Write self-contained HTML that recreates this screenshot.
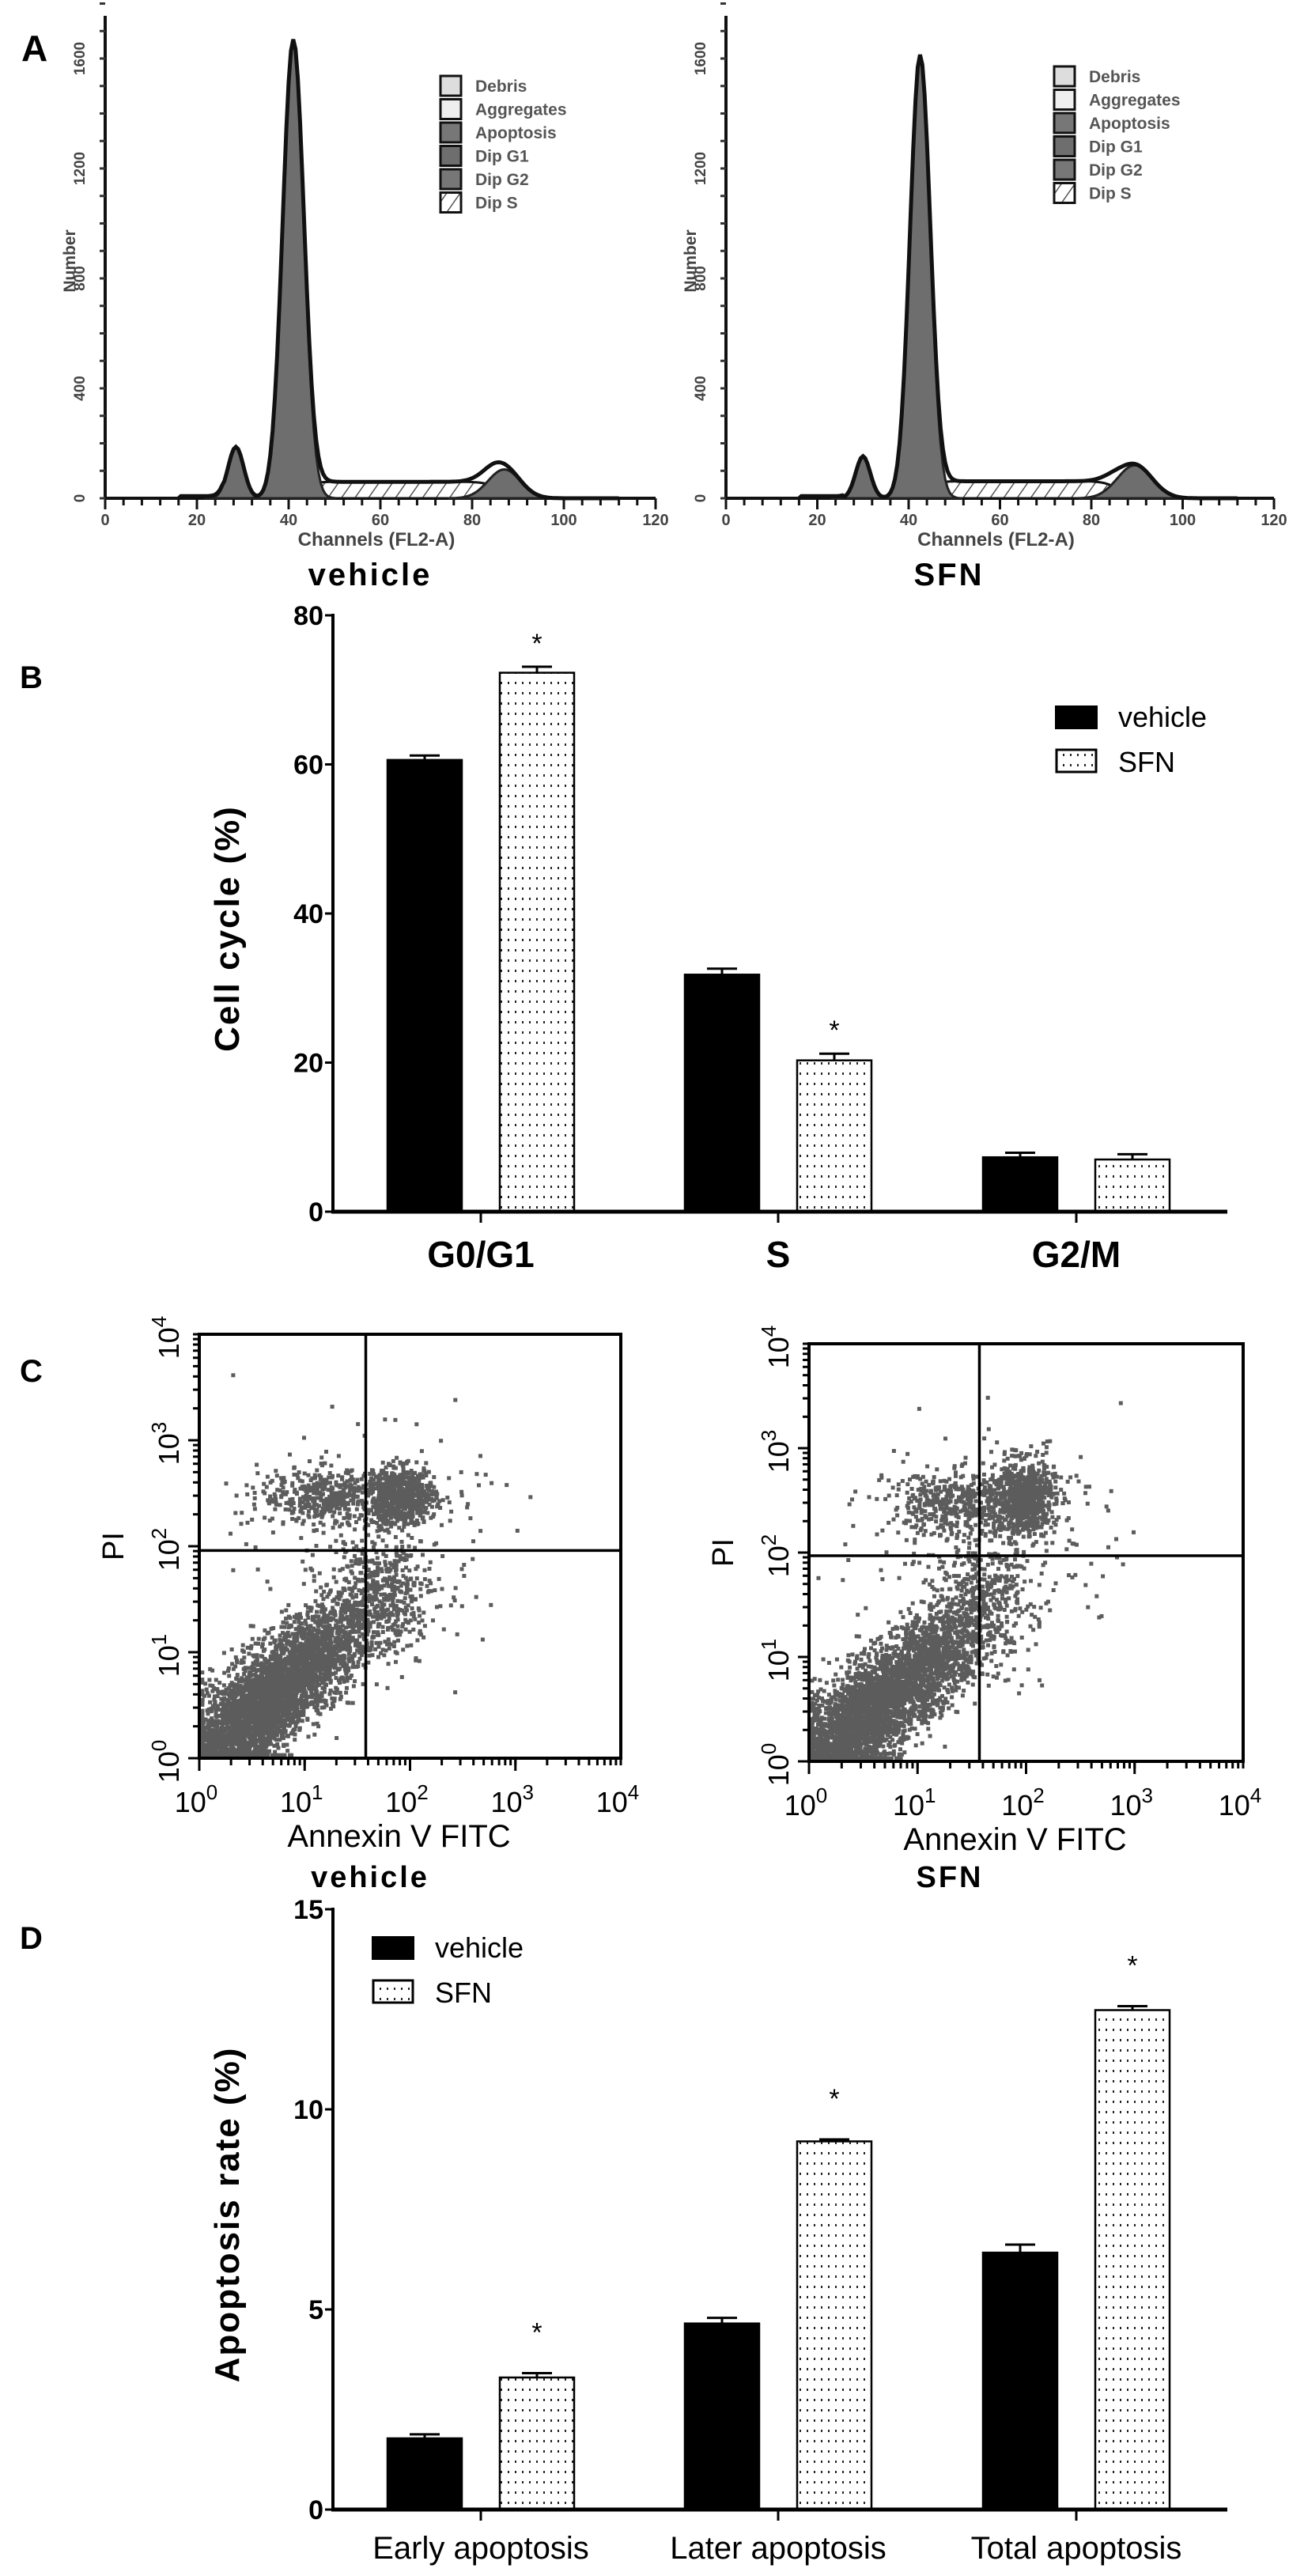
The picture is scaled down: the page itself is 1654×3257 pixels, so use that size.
<!DOCTYPE html>
<html><head><meta charset="utf-8"><style>
html,body{margin:0;padding:0;background:#fff;}
svg{display:block;}
.nb{font-family:"Liberation Sans Narrow","Liberation Sans",sans-serif;font-weight:bold;}
.n{font-family:"Liberation Sans Narrow","Liberation Sans",sans-serif;}
.s{font-family:"Liberation Sans",sans-serif;}
</style></head><body>
<svg id="fig" width="1654" height="3257" viewBox="0 0 1654 3257" xmlns="http://www.w3.org/2000/svg">
<defs>
<pattern id="dots" width="9" height="13" patternUnits="userSpaceOnUse"><rect width="9" height="13" fill="#fff"/><rect x="3" y="4" width="2" height="3" fill="#222"/></pattern>
<pattern id="hatch" width="14" height="14" patternUnits="userSpaceOnUse" patternTransform="rotate(35)"><rect width="14" height="14" fill="#fff"/><line x1="0" y1="0" x2="0" y2="14" stroke="#555" stroke-width="3"/></pattern>
</defs>
<text x="27" y="77" class="nb" font-size="46">A</text>
<g id="histL"></g>
<g id="histR"></g>
<text x="25" y="870" class="s" font-weight="bold" font-size="40">B</text>
<g id="chartB"></g>
<text x="25" y="1747" class="s" font-weight="bold" font-size="40">C</text>
<g id="scL"></g>
<g id="scR"></g>
<text x="25" y="2464" class="s" font-weight="bold" font-size="40">D</text>
<g id="chartD"></g>
</svg>
<script>
const NS="http://www.w3.org/2000/svg";
// ---- Panel A data ----
const histTicksX=[0,20,40,60,80,100,120];
const histTicksY=[0,400,800,1200,1600];
const legendA=["Debris","Aggregates","Apoptosis","Dip G1","Dip G2","Dip S"];
const vehApo=[28.5,187,1.7];
const vehG1=[41,1660,2.3];
const vehG2=[87,105,3.5];
const vehS=[43,86,60];
const sfnApo=[30,153,1.6];
const sfnG1=[42.5,1600,2.2];
const sfnG2=[89.5,120,3.8];
const sfnS=[44,86,62];
// ---- Panel B data ----
const catB=["G0/G1","S","G2/M"];
const vehB=[60.6,31.8,7.3];
const vehBerr=[0.6,0.8,0.6];
const sfnB=[72.3,20.3,7.0];
const sfnBerr=[0.8,0.9,0.7];
const ticksB=[0,20,40,60,80];
// ---- Panel C data (clusters: cx,cy,sx,sy,n,diag) ----
const vehClusters=[[0.6,0.5,0.5,0.2,4200,1],[1.2,2.45,0.32,0.14,420,0],[1.9,2.45,0.16,0.13,700,0],[1.75,1.5,0.25,0.3,320,0],[1.6,2.0,0.55,0.5,160,0]];
const sfnClusters=[[0.55,0.45,0.5,0.2,4200,1],[1.3,2.45,0.3,0.15,380,0],[1.95,2.5,0.15,0.18,750,0],[1.55,1.5,0.25,0.35,320,0],[1.7,2.1,0.6,0.55,170,0]];
// ---- Panel D data ----
const catD=["Early apoptosis","Later apoptosis","Total apoptosis"];
const vehD=[1.78,4.65,6.42];
const vehDerr=[0.1,0.14,0.2];
const sfnD=[3.3,9.2,12.48];
const sfnDerr=[0.11,0.05,0.1];
const ticksD=[0,5,10,15];

function el(tag,attrs,parent,text){const e=document.createElementNS(NS,tag);for(const k in attrs)e.setAttribute(k,attrs[k]);if(text!==undefined)e.textContent=text;parent.appendChild(e);return e;}
function gauss(c,p){return p[1]*Math.exp(-0.5*Math.pow((c-p[0])/p[2],2));}
function plate(c,s){const a=1/(1+Math.exp(-(c-s[0])/1.2)),b=1/(1+Math.exp((c-s[1])/1.5));return s[2]*a*b;}

function hist(g,x0,x1,base,apo,g1,g2,S,txt,lx){
  const xs=c=>x0+c*(x1-x0)/120, ys=n=>base-n*0.3475;
  const ax=el('line',{x1:x0,y1:base,x2:x1,y2:base,stroke:'#111','stroke-width':4},g);
  
  const ay=el('line',{x1:x0,y1:20,x2:x0,y2:base,stroke:'#111','stroke-width':4},g);
  
  for(let c=0;c<=120;c+=4){el('line',{x1:xs(c),y1:base,x2:xs(c),y2:base+(c%20==0?14:9),stroke:'#111','stroke-width':3},g);}
  for(let n=0;n<=1800;n+=100){el('line',{x1:x0-7,y1:ys(n),x2:x0,y2:ys(n),stroke:'#333','stroke-width':3},g);}
  histTicksX.forEach(v=>{const t=el('text',{x:xs(v),y:664,'text-anchor':'middle','font-size':20,fill:'#444',class:'nb'},g,v);});
  histTicksY.forEach(v=>{const t=el('text',{x:0,y:0,'text-anchor':'middle','font-size':19,fill:'#444',class:'nb',transform:`translate(${x0-26},${ys(v)}) rotate(-90)`},g,v);});
  const yt=el('text',{x:0,y:0,'text-anchor':'middle','font-size':21,fill:'#444',class:'nb',transform:`translate(${x0-38},330) rotate(-90)`},g,'Number');
  const xt=el('text',{x:(x0+x1)/2-5,y:690,'text-anchor':'middle','font-size':24,fill:'#444',class:'nb'},g,'Channels  (FL2-A)');
  const cap=el('text',{x:lx,y:740,'text-anchor':'middle','font-size':40,class:'nb','letter-spacing':'3'},g,txt);
  let sP=`M${xs(S[0]-3)},${base}`,g1P=`M${xs(g1[0]-9)},${base}`,apP=`M${xs(apo[0]-7)},${base}`,g2P=`M${xs(g2[0]-12)},${base}`,tot='';
  for(let c=16;c<=112;c+=0.5){
    const sv=plate(c,S),a=gauss(c,apo),b=gauss(c,g1),d=gauss(c,g2),deb=(c>16&&c<26)?8:0;
    const t=sv+a+b+d+deb;
    tot+=(tot?'L':'M')+xs(c).toFixed(1)+','+ys(t).toFixed(1);
    if(c>=S[0]-3&&c<=S[1]+5)sP+=`L${xs(c).toFixed(1)},${ys(sv).toFixed(1)}`;
    if(Math.abs(c-g1[0])<=9)g1P+=`L${xs(c).toFixed(1)},${ys(b).toFixed(1)}`;
    if(Math.abs(c-apo[0])<=7)apP+=`L${xs(c).toFixed(1)},${ys(a).toFixed(1)}`;
    if(Math.abs(c-g2[0])<=12)g2P+=`L${xs(c).toFixed(1)},${ys(d).toFixed(1)}`;
  }
  const ps=el('path',{d:sP+`L${xs(S[1]+5)},${base}Z`,fill:'url(#hatch)',stroke:'#111','stroke-width':3},g);
  const p2=el('path',{d:g2P+`L${xs(g2[0]+12)},${base}Z`,fill:'#6e6e6e',stroke:'#222','stroke-width':3},g);
  const pa=el('path',{d:apP+`L${xs(apo[0]+7)},${base}Z`,fill:'#6e6e6e',stroke:'#222','stroke-width':3},g);
  const p1=el('path',{d:g1P+`L${xs(g1[0]+9)},${base}Z`,fill:'#6e6e6e',stroke:'#222','stroke-width':3},g);
  const pt=el('path',{d:tot,fill:'none',stroke:'#111','stroke-width':5},g);
}
function legendHist(g,x,y0){
  const fills=['#ddd','#eee','#777','#6e6e6e','#777','url(#hatch)'];
  legendA.forEach((t,i)=>{const y=y0+i*29.5;
    const r=el('rect',{x:x,y:y-12,width:26,height:25,fill:fills[i],stroke:'#111','stroke-width':3},g);
    const tx=el('text',{x:x+44,y:y+8,'font-size':21,fill:'#555',class:'nb'},g,t);});
}
const hL=document.getElementById('histL'),hR=document.getElementById('histR');
hist(hL,133,829,630,vehApo,vehG1,vehG2,vehS,'vehicle',468);
hist(hR,918,1611,630,sfnApo,sfnG1,sfnG2,sfnS,'SFN',1200);
legendHist(hL,557,108);legendHist(hR,1333,96);

function bars(g,cats,veh,vehE,sfn,sfnE,ticks,ymax,y0,y1,titleTxt,titleY,catFont,legX,legY,stars){
  const X0=421,X1=1552,centers=[608,984,1361];
  const ys=v=>y0-(v/ymax)*(y0-y1);
  const ya=el('line',{x1:X0,y1:y1-2,x2:X0,y2:y0,stroke:'#000','stroke-width':4},g);
  ticks.forEach(v=>{el('line',{x1:X0-10,y1:ys(v),x2:X0,y2:ys(v),stroke:'#000','stroke-width':3},g);
    const t=el('text',{x:X0-12,y:ys(v)+12,'text-anchor':'end','font-size':34,class:'nb'},g,v);});
  const yt=el('text',{x:0,y:0,'text-anchor':'middle','font-size':44,class:'s','font-weight':'bold','letter-spacing':'2',transform:`translate(302,${titleY}) rotate(-90)`},g,titleTxt);
  cats.forEach((c,i)=>{const cx=centers[i];
    el('line',{x1:cx,y1:y0,x2:cx,y2:y0+14,stroke:'#000','stroke-width':3},g);
    const t=el('text',{x:cx,y:y0+catFont[1],'text-anchor':'middle','font-size':catFont[0],class:catFont[2]},g,c);
    [[veh,vehE,-118,'#000','vehicle'],[sfn,sfnE,24,'url(#dots)','sfn']].forEach((s,k)=>{
      const v=s[0][i],e=s[1][i],x=cx+s[2];
      const ey=el('line',{x1:x+47,y1:ys(v+e),x2:x+47,y2:ys(v),stroke:'#000','stroke-width':3},g);
      el('line',{x1:x+28,y1:ys(v+e),x2:x+66,y2:ys(v+e),stroke:'#000','stroke-width':3},g);
      const r=el('rect',{x:x,y:ys(v),width:94,height:y0-ys(v),fill:s[3],stroke:'#000','stroke-width':2.5},g);
      
      if(k==1&&stars[i]){const st=el('text',{x:x+47,y:ys(v+e)-stars[i],'text-anchor':'middle','font-size':34,class:'s'},g,'*');}
    });
  });
  const xa=el('line',{x1:X0-2,y1:y0,x2:X1,y2:y0,stroke:'#000','stroke-width':5},g);
  const l1=el('rect',{x:legX,y:legY,width:54,height:30,fill:'#000'},g);
  const t1=el('text',{x:legX+80,y:legY+27,'font-size':36,class:'n'},g,'vehicle');
  const l2=el('rect',{x:legX+2,y:legY+56,width:50,height:28,fill:'url(#dots)',stroke:'#000','stroke-width':3},g);
  const t2=el('text',{x:legX+80,y:legY+84,'font-size':36,class:'n'},g,'SFN');
}
bars(document.getElementById('chartB'),catB,vehB,vehBerr,sfnB,sfnBerr,ticksB,80,1532,778,'Cell cycle (%)',1174,[46,70,'nb'],1334,892,[18,18,0]);
bars(document.getElementById('chartD'),catD,vehD,vehDerr,sfnD,sfnDerr,ticksD,15,3173,2414,'Apoptosis rate (%)',2800,[40,62,'n'],470,2448,[40,40,40]);

let seed=12345;function rnd(){seed=(seed*1103515245+12345)%2147483648;return seed/2147483648;}
function nrm(){let u=rnd()||1e-9,v=rnd();return Math.sqrt(-2*Math.log(u))*Math.cos(2*Math.PI*v);}
function scatter(g,L,R,T,B,vx,hy,clusters,cap,capX){
  const xs=d=>L+d*(R-L)/4, ys=d=>B-d*(B-T)/4;
  const pts=el('g',{fill:'#5c5c5c'},g);
  clusters.forEach(c=>{for(let i=0;i<c[4];i++){let x,y;
    if(c[5]){const a=nrm()*c[2];const p=nrm()*c[3];x=c[0]+a+p*0.7;y=c[1]+a*0.95-p*0.7;}
    else{x=c[0]+nrm()*c[2];y=c[1]+nrm()*c[3];}
    if(x<0.01||y<0.01){x=Math.max(0.01,x);y=Math.max(0.01,y);}
    if(x>3.95||y>3.95)continue;
    el('rect',{x:xs(x).toFixed(1),y:(ys(y)-5).toFixed(1),width:5,height:5},pts);}});
  const bx=el('rect',{x:L,y:T,width:R-L,height:B-T,fill:'none',stroke:'#000','stroke-width':4},g);
  const qv=el('line',{x1:xs(vx),y1:T,x2:xs(vx),y2:B,stroke:'#000','stroke-width':3.5},g);
  const qh=el('line',{x1:L,y1:ys(hy),x2:R,y2:ys(hy),stroke:'#000','stroke-width':3.5},g);
  for(let d=0;d<4;d++)for(let k=1;k<=10;k++){const f=d+Math.log10(k);const big=k==1;
    el('line',{x1:xs(f),y1:B,x2:xs(f),y2:B+(big?16:9),stroke:'#000','stroke-width':3},g);
    el('line',{x1:L-(big?14:8),y1:ys(f),x2:L,y2:ys(f),stroke:'#000','stroke-width':3},g);}
  for(let d=0;d<=4;d++){
    const t=el('text',{x:xs(d)-4,y:B+68,'text-anchor':'middle','font-size':36,class:'n'},g);
    t.textContent='10';el('tspan',{dy:-16,'font-size':26},t,String(d));
    const u=el('text',{x:0,y:0,'text-anchor':'middle','font-size':36,class:'s',transform:`translate(${L-26},${ys(d)+4}) rotate(-90)`},g);
    u.textContent='10';el('tspan',{dy:-16,'font-size':26},u,String(d));
  }
  const yt=el('text',{x:0,y:0,'text-anchor':'middle','font-size':38,class:'s',transform:`translate(${L-96},${ys(2)}) rotate(-90)`},g,'PI');
  const xt=el('text',{x:(L+R)/2-14,y:B+112,'text-anchor':'middle','font-size':40,class:'n'},g,'Annexin V FITC');
  const c=el('text',{x:capX,y:2386,'text-anchor':'middle','font-size':38,class:'nb','letter-spacing':'3'},g,cap);
}
scatter(document.getElementById('scL'),252,785,1687,2223,1.58,1.96,vehClusters,'vehicle',468);
scatter(document.getElementById('scR'),1023,1572,1699,2227,1.57,1.97,sfnClusters,'SFN',1201);
</script>
</body></html>
